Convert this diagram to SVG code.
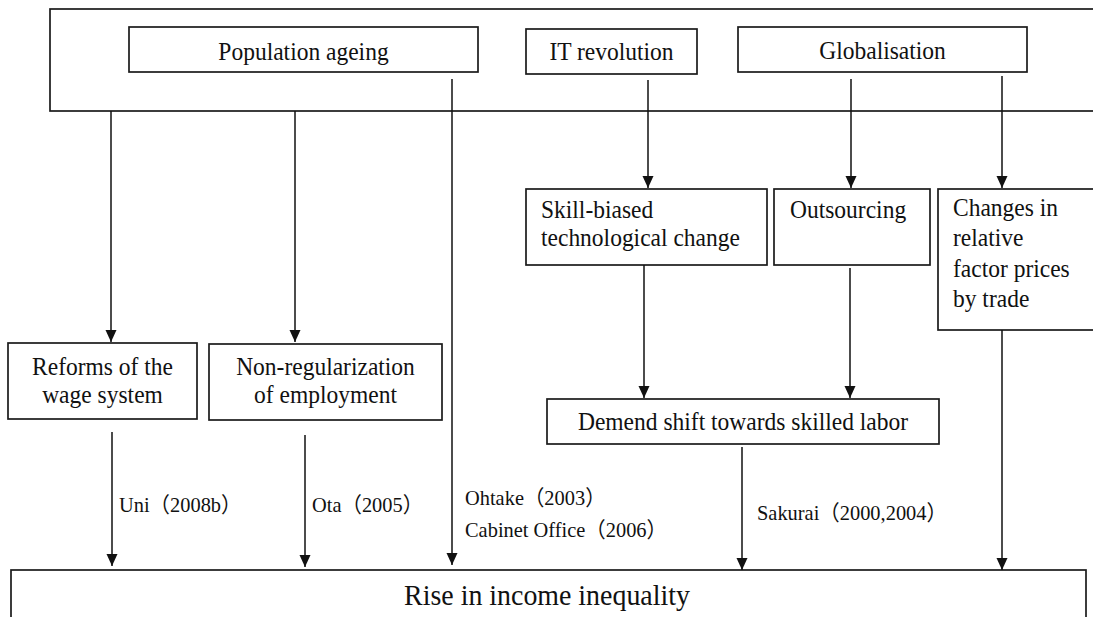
<svg xmlns="http://www.w3.org/2000/svg" width="1093" height="617" viewBox="0 0 1093 617">
<style>
.box{fill:#fff;stroke:#1a1a1a;stroke-width:1.7}
.t{font-family:"Liberation Serif","Times New Roman",serif;font-size:25px;fill:#111}
.c{text-anchor:middle}
.lbl{font-family:"Liberation Serif","Noto Sans CJK JP",serif;font-size:21.5px;fill:#111}
.big{font-family:"Liberation Serif","Times New Roman",serif;font-size:30px;fill:#111;text-anchor:middle}
.ln{stroke:#111;stroke-width:1.5;fill:none;marker-end:url(#ah)}
</style>
<defs>
<marker id="ah" viewBox="0 0 12 12" markerWidth="12" markerHeight="12" refX="12" refY="6" orient="auto" markerUnits="userSpaceOnUse">
<path d="M0,0.5 L12,6 L0,11.5 z" fill="#111"/>
</marker>
</defs>
<rect width="1093" height="617" fill="#fff"/>
<g id="drivers">
<rect class="box" x="50" y="9" width="1060" height="102"/>
</g>
<g id="population-ageing">
<rect class="box" x="129" y="27" width="349" height="45"/>
<text class="t c" transform="translate(303.5,60) scale(0.94,1)">Population ageing</text>
</g>
<g id="it-revolution">
<rect class="box" x="526" y="29" width="171" height="45"/>
<text class="t c" transform="translate(611.5,60) scale(0.94,1)">IT revolution</text>
</g>
<g id="globalisation">
<rect class="box" x="738" y="27" width="289" height="45"/>
<text class="t c" transform="translate(882.5,59) scale(0.94,1)">Globalisation</text>
</g>
<g id="skill-biased">
<rect class="box" x="526" y="189" width="241" height="76"/>
<text class="t" transform="translate(541,218) scale(0.94,1)">Skill-biased</text>
<text class="t" transform="translate(541,246) scale(0.94,1)">technological change</text>
</g>
<g id="outsourcing">
<rect class="box" x="774" y="189" width="156" height="76"/>
<text class="t" transform="translate(790,218) scale(0.94,1)">Outsourcing</text>
</g>
<g id="factor-prices">
<rect class="box" x="938" y="189" width="170" height="141"/>
<text class="t" transform="translate(953,216) scale(0.94,1)">Changes in</text>
<text class="t" transform="translate(953,246) scale(0.94,1)">relative</text>
<text class="t" transform="translate(953,277) scale(0.94,1)">factor prices</text>
<text class="t" transform="translate(953,307) scale(0.94,1)">by trade</text>
</g>
<g id="wage-reform">
<rect class="box" x="8" y="343" width="189" height="76"/>
<text class="t c" transform="translate(102.5,375) scale(0.94,1)">Reforms of the</text>
<text class="t c" transform="translate(102.5,403) scale(0.94,1)">wage system</text>
</g>
<g id="non-regular">
<rect class="box" x="209" y="344" width="233" height="76"/>
<text class="t c" transform="translate(325.5,375) scale(0.94,1)">Non-regularization</text>
<text class="t c" transform="translate(325.5,403) scale(0.94,1)">of employment</text>
</g>
<g id="demand-shift">
<rect class="box" x="547" y="399" width="392" height="45"/>
<text class="t c" transform="translate(743,430) scale(0.94,1)">Demend shift towards skilled labor</text>
</g>
<g id="inequality">
<rect class="box" x="11" y="570" width="1075" height="60"/>
<text class="big" transform="translate(547,605) scale(0.93,1)">Rise in income inequality</text>
</g>
<g id="connectors">
<line class="ln" x1="111" y1="111" x2="111" y2="342"/>
<line class="ln" x1="295" y1="111" x2="295" y2="342"/>
<line class="ln" x1="452" y1="79" x2="452" y2="565"/>
<line class="ln" x1="648" y1="80" x2="648" y2="188"/>
<line class="ln" x1="851" y1="79" x2="851" y2="188"/>
<line class="ln" x1="1002" y1="76" x2="1002" y2="188"/>
<line class="ln" x1="644" y1="265" x2="644" y2="398"/>
<line class="ln" x1="850" y1="268" x2="850" y2="398"/>
<line class="ln" x1="112" y1="432" x2="112" y2="566"/>
<line class="ln" x1="305" y1="435" x2="305" y2="567"/>
<line class="ln" x1="742" y1="447" x2="742" y2="570"/>
<line class="ln" x1="1002" y1="330" x2="1002" y2="570"/>
</g>
<g id="labels">
<text class="lbl" transform="translate(119,512) scale(0.95,1)">Uni（2008b）</text>
<text class="lbl" transform="translate(312,512) scale(0.95,1)">Ota（2005）</text>
<text class="lbl" transform="translate(465,505) scale(0.95,1)">Ohtake（2003）</text>
<text class="lbl" transform="translate(465,537) scale(0.95,1)">Cabinet Office（2006）</text>
<text class="lbl" transform="translate(757,520) scale(0.95,1)">Sakurai（2000,2004）</text>
</g>
</svg>
